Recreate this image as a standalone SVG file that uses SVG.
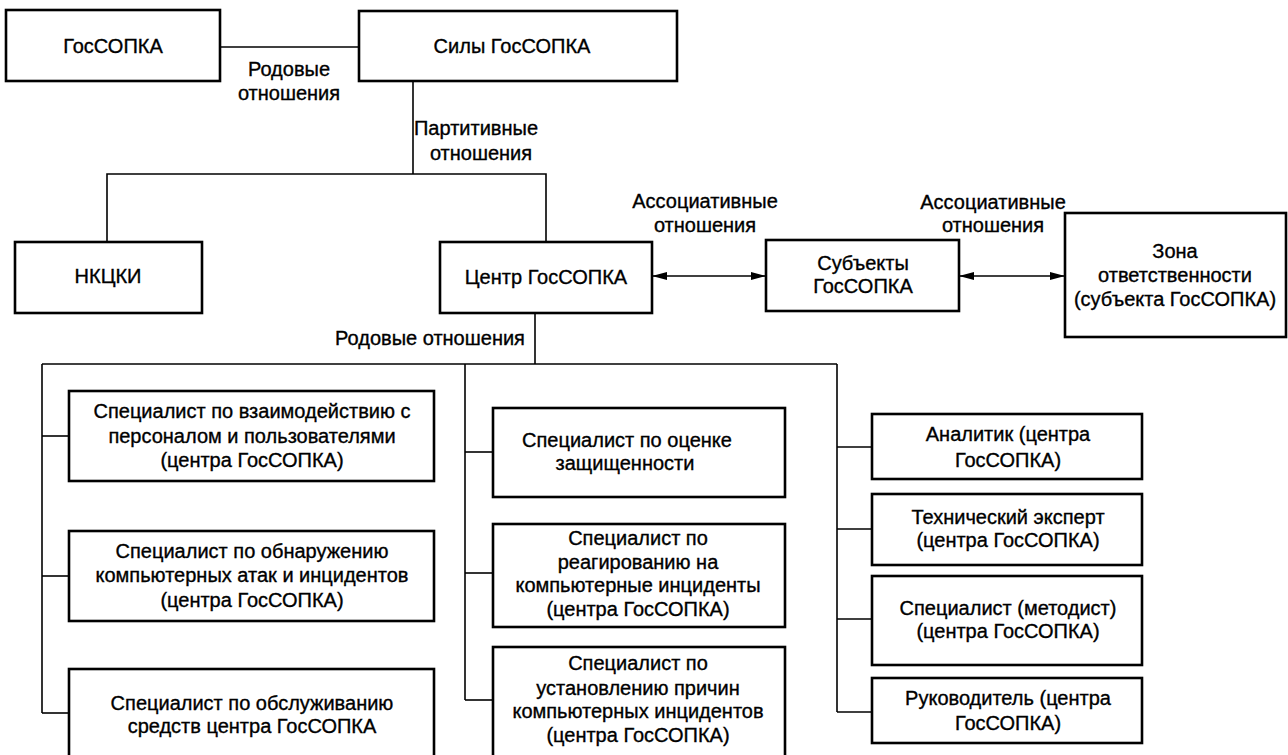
<svg xmlns="http://www.w3.org/2000/svg" width="1288" height="755" viewBox="0 0 1288 755">
<defs>
<style>
.box{fill:#fff;stroke:#000;stroke-width:2.6}
.t{font-family:"Liberation Sans",Arial,sans-serif;font-size:20px;fill:#000;text-anchor:middle;stroke:#000;stroke-width:0.35}
.c{fill:none;stroke:#000;stroke-width:1.6}
</style>
<marker id="ah" viewBox="0 0 15 8" refX="15" refY="4" markerWidth="15" markerHeight="8" markerUnits="userSpaceOnUse" orient="auto-start-reverse">
<path d="M0,0 L15,4 L0,8 Z" fill="#000"/>
</marker>
</defs>
<rect width="1288" height="755" fill="#fff"/>
<g id="connectors">
<line class="c" x1="220" y1="47" x2="359" y2="47"/>
<polyline class="c" points="413,81 413,174"/>
<polyline class="c" points="107,242 107,174 546,174 546,242"/>
<line class="c" x1="652" y1="276" x2="766" y2="276" marker-start="url(#ah)" marker-end="url(#ah)"/>
<line class="c" x1="959" y1="276" x2="1065" y2="276" marker-start="url(#ah)" marker-end="url(#ah)"/>
<polyline class="c" points="535,313 535,364"/>
<polyline class="c" points="42,364 837,364"/>
<polyline class="c" points="42,364 42,713"/>
<line class="c" x1="42" y1="436" x2="69" y2="436"/>
<line class="c" x1="42" y1="576" x2="69" y2="576"/>
<line class="c" x1="42" y1="713" x2="69" y2="713"/>
<polyline class="c" points="465,364 465,700"/>
<line class="c" x1="465" y1="452" x2="493" y2="452"/>
<line class="c" x1="465" y1="573" x2="493" y2="573"/>
<line class="c" x1="465" y1="700" x2="493" y2="700"/>
<polyline class="c" points="837,364 837,712"/>
<line class="c" x1="837" y1="447" x2="872" y2="447"/>
<line class="c" x1="837" y1="529" x2="872" y2="529"/>
<line class="c" x1="837" y1="619" x2="872" y2="619"/>
<line class="c" x1="837" y1="712" x2="872" y2="712"/>
<text class="t" x="289" y="76">Родовые</text>
<text class="t" x="289" y="100">отношения</text>
<text class="t" x="476" y="135">Партитивные</text>
<text class="t" x="481" y="160">отношения</text>
<text class="t" x="705" y="208">Ассоциативные</text>
<text class="t" x="705" y="232">отношения</text>
<text class="t" x="993" y="209">Ассоциативные</text>
<text class="t" x="993" y="232">отношения</text>
<text class="t" x="430" y="345">Родовые отношения</text>
</g>
<g id="n-gossopka">
<rect class="box" x="6" y="10" width="214" height="71"/>
<text class="t" x="113" y="53">ГосСОПКА</text>
</g>
<g id="n-sily">
<rect class="box" x="359" y="11" width="318" height="70"/>
<text class="t" x="512" y="53">Силы ГосСОПКА</text>
</g>
<g id="n-nkcki">
<rect class="box" x="15" y="242" width="187" height="71"/>
<text class="t" x="108" y="283">НКЦКИ</text>
</g>
<g id="n-centr">
<rect class="box" x="440" y="242" width="212" height="71"/>
<text class="t" x="546" y="284">Центр ГосСОПКА</text>
</g>
<g id="n-subekty">
<rect class="box" x="766" y="240" width="193" height="71"/>
<text class="t" x="863" y="270">Субъекты</text>
<text class="t" x="863" y="293">ГосСОПКА</text>
</g>
<g id="n-zona">
<rect class="box" x="1065" y="213" width="221" height="124"/>
<text class="t" x="1175" y="258">Зона</text>
<text class="t" x="1175" y="282">ответственности</text>
<text class="t" x="1175" y="306">(субъекта ГосСОПКА)</text>
</g>
<g id="n-l1">
<rect class="box" x="69" y="391" width="365" height="90"/>
<text class="t" x="252" y="418">Специалист по взаимодействию с</text>
<text class="t" x="252" y="443">персоналом и пользователями</text>
<text class="t" x="252" y="467">(центра ГосСОПКА)</text>
</g>
<g id="n-l2">
<rect class="box" x="69" y="531" width="365" height="90"/>
<text class="t" x="252" y="558">Специалист по обнаружению</text>
<text class="t" x="252" y="582">компьютерных атак и инцидентов</text>
<text class="t" x="252" y="607">(центра ГосСОПКА)</text>
</g>
<g id="n-l3">
<rect class="box" x="69" y="669" width="365" height="92"/>
<text class="t" x="252" y="710">Специалист по обслуживанию</text>
<text class="t" x="252" y="733">средств центра ГосСОПКА</text>
</g>
<g id="n-m1">
<rect class="box" x="493" y="408" width="292" height="89"/>
<text class="t" x="627" y="447">Специалист по оценке</text>
<text class="t" x="625" y="470">защищенности</text>
</g>
<g id="n-m2">
<rect class="box" x="493" y="524" width="292" height="103"/>
<text class="t" x="638" y="545">Специалист по</text>
<text class="t" x="638" y="569">реагированию на</text>
<text class="t" x="638" y="592">компьютерные инциденты</text>
<text class="t" x="638" y="616">(центра ГосСОПКА)</text>
</g>
<g id="n-m3">
<rect class="box" x="493" y="647" width="292" height="114"/>
<text class="t" x="638" y="670">Специалист по</text>
<text class="t" x="638" y="695">установлению причин</text>
<text class="t" x="638" y="718">компьютерных инцидентов</text>
<text class="t" x="638" y="742">(центра ГосСОПКА)</text>
</g>
<g id="n-r1">
<rect class="box" x="872" y="414" width="270" height="65"/>
<text class="t" x="1008" y="441">Аналитик (центра</text>
<text class="t" x="1008" y="467">ГосСОПКА)</text>
</g>
<g id="n-r2">
<rect class="box" x="872" y="494" width="270" height="71"/>
<text class="t" x="1008" y="524">Технический эксперт</text>
<text class="t" x="1008" y="547">(центра ГосСОПКА)</text>
</g>
<g id="n-r3">
<rect class="box" x="872" y="576" width="270" height="89"/>
<text class="t" x="1008" y="615">Специалист (методист)</text>
<text class="t" x="1008" y="638">(центра ГосСОПКА)</text>
</g>
<g id="n-r4">
<rect class="box" x="872" y="678" width="270" height="65"/>
<text class="t" x="1008" y="705">Руководитель (центра</text>
<text class="t" x="1008" y="730">ГосСОПКА)</text>
</g>
</svg>
